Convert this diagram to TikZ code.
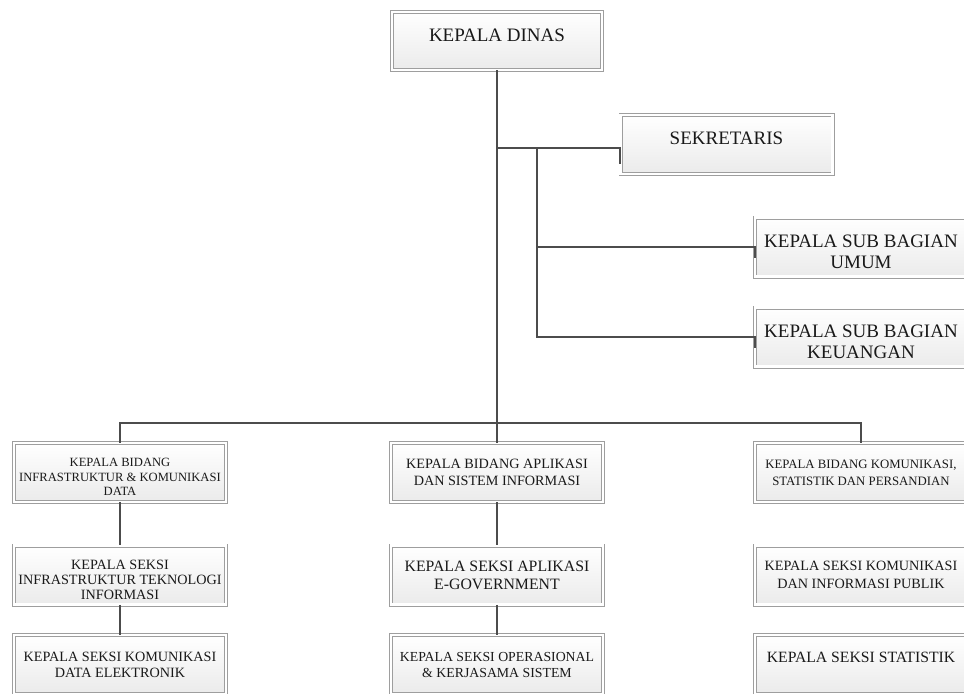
\documentclass[tikz,border=0pt]{standalone}
\usepackage{fontspec}
\setmainfont{Liberation Serif}
\usetikzlibrary{matrix,shadows}
\tikzset{>=latex,
  orgbox/.style={draw=black!38, double=white, double distance=1.2pt, line width=0.4pt,
    top color=white, bottom color=black!8, text=black!90, align=center, inner sep=1pt,
    minimum width=106pt, minimum height=29.5pt,
    drop shadow={shadow xshift=1.1pt, shadow yshift=-1.1pt, fill=black!13, opacity=1}},
  conn/.style={draw=black!70, line width=0.9pt},
  fs/.style 2 args={font=\fontsize{#1}{#2}\selectfont}}

\begin{document}
\begin{tikzpicture}[x=0.5pt,y=-0.5pt]
\useasboundingbox (0,0) rectangle (964,693);
\node[orgbox, fs={9.5}{10.4}, text depth=6pt, minimum width=105pt, minimum height=29pt] (dinas) at (497,41) {KEPALA DINAS};
\node[orgbox, fs={9.5}{10.4}, text depth=6pt] (sek) at (726.5,144.5) {SEKRETARIS};
\node[orgbox, fs={9.5}{10.4}, text height=21.7pt] (umum) at (861,247) {KEPALA SUB BAGIAN\\UMUM};
\node[orgbox, fs={9.5}{10.4}, text height=21.7pt] (keu) at (861,337) {KEPALA SUB BAGIAN\\KEUANGAN};
\matrix (m) [matrix anchor=m-1-2.center, column sep=74pt, row sep=13.25pt] at (497,472.5) {
  \node[orgbox, fs={6.3}{7.3}, text height=23.3pt] (m-1-1) {KEPALA BIDANG\\INFRASTRUKTUR \& KOMUNIKASI\\DATA}; &[6.5pt]
  \node[orgbox, fs={7.1}{8.5}] (m-1-2) {KEPALA BIDANG APLIKASI\\DAN SISTEM INFORMASI}; &
  \node[orgbox, fs={6.4}{8.5}] (m-1-3) {KEPALA BIDANG KOMUNIKASI,\\STATISTIK DAN PERSANDIAN}; \\[6.5pt]
  \node[orgbox, fs={7.1}{7.6}, text height=24.9pt] (m-2-1) {KEPALA SEKSI\\INFRASTRUKTUR TEKNOLOGI\\INFORMASI}; &
  \node[orgbox, fs={7.9}{9}] (m-2-2) {KEPALA SEKSI APLIKASI\\E-GOVERNMENT}; &
  \node[orgbox, fs={7.1}{9}] (m-2-3) {KEPALA SEKSI KOMUNIKASI\\DAN INFORMASI PUBLIK}; \\
  \node[orgbox, fs={7.1}{8}] (m-3-1) {KEPALA SEKSI KOMUNIKASI\\DATA ELEKTRONIK}; &
  \node[orgbox, fs={6.9}{8}] (m-3-2) {KEPALA SEKSI OPERASIONAL\\\& KERJASAMA SISTEM}; &
  \node[orgbox, fs={7.85}{8}, text depth=7.5pt] (m-3-3) {KEPALA SEKSI STATISTIK}; \\
};
\coordinate (j1) at (497,148);
\coordinate (j2) at (537,148);
\draw[conn] (dinas) -- (m-1-2);
\draw[conn] (j1) -- (sek.west |- j1) -- ++(0,16);
\draw[conn] (j2) |- (umum.west) -- ++(0,11);
\draw[conn] (j2) |- (keu.west) -- ++(0,11);
\draw[conn] (m-1-1.north) -- ++(0,-20) -| (m-1-3.north);
\path[conn] (m-1-1) edge (m-2-1)
  (m-2-1) edge (m-3-1)
  (m-1-2) edge (m-2-2)
  (m-2-2) edge (m-3-2);
\end{tikzpicture}
\end{document}
